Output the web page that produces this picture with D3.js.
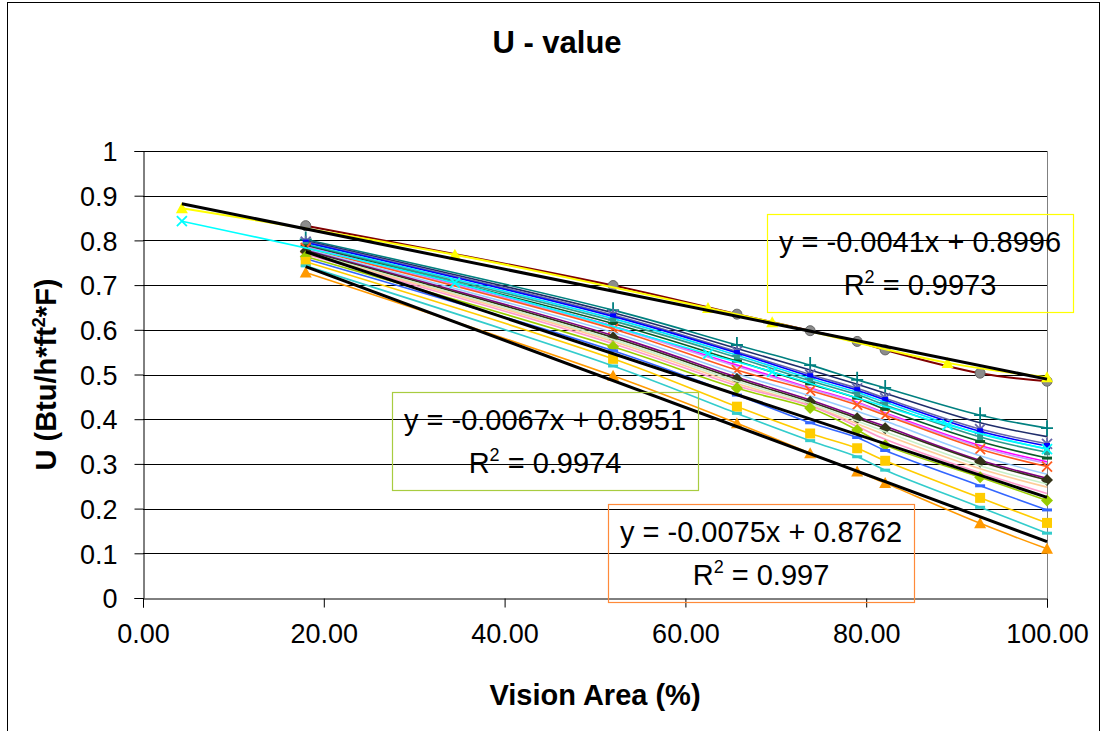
<!DOCTYPE html>
<html>
<head>
<meta charset="utf-8">
<script src="https://cdn.jsdelivr.net/npm/d3@7"></script>
<style>
  body { margin: 0; background: #fff; }
  text { font-family: "Liberation Sans", Arial, sans-serif; }
</style>
</head>
<body>
<div id="chart"></div>
<script>
// data
const xTicks = [0, 20, 40, 60, 80, 100];
const yTicks = [0, 0.1, 0.2, 0.3, 0.4, 0.5, 0.6, 0.7, 0.8, 0.9, 1];

// vision area values shared by most series
const bandX = [18.0, 52.0, 65.7, 73.8, 79.0, 82.1, 92.6, 100];

const bandValues = [
  [0.802, 0.644, 0.566, 0.521, 0.488, 0.470, 0.409, 0.380],
  [0.799, 0.638, 0.558, 0.510, 0.478, 0.458, 0.392, 0.361],
  [0.797, 0.633, 0.551, 0.500, 0.469, 0.447, 0.378, 0.345],
  [0.795, 0.630, 0.548, 0.496, 0.465, 0.443, 0.373, 0.340],
  [0.792, 0.625, 0.543, 0.491, 0.460, 0.438, 0.367, 0.334],
  [0.790, 0.620, 0.538, 0.486, 0.455, 0.432, 0.360, 0.326],
  [0.788, 0.614, 0.530, 0.479, 0.447, 0.422, 0.350, 0.313],
  [0.786, 0.608, 0.521, 0.470, 0.438, 0.414, 0.341, 0.305],
  [0.785, 0.606, 0.518, 0.468, 0.436, 0.412, 0.338, 0.301],
  [0.783, 0.602, 0.510, 0.464, 0.432, 0.409, 0.333, 0.294],
  [0.780, 0.594, 0.501, 0.452, 0.418, 0.396, 0.318, 0.277],
  [0.778, 0.587, 0.494, 0.443, 0.406, 0.384, 0.308, 0.268],
  [0.776, 0.583, 0.490, 0.439, 0.402, 0.380, 0.305, 0.264],
  [0.774, 0.578, 0.485, 0.435, 0.396, 0.372, 0.296, 0.255],
  [0.772, 0.574, 0.480, 0.431, 0.390, 0.365, 0.289, 0.248],
  [0.769, 0.569, 0.475, 0.430, 0.384, 0.355, 0.280, 0.234],
  [0.764, 0.562, 0.469, 0.425, 0.376, 0.342, 0.270, 0.218],
  [0.759, 0.553, 0.454, 0.392, 0.359, 0.330, 0.251, 0.197],
  [0.752, 0.535, 0.428, 0.368, 0.335, 0.307, 0.224, 0.168],
  [0.743, 0.519, 0.413, 0.352, 0.316, 0.286, 0.203, 0.145],
  [0.728, 0.497, 0.391, 0.324, 0.283, 0.257, 0.167, 0.110]
];

// top series (grey circles)
const topValues = [0.833, 0.699, 0.635, 0.598, 0.574, 0.555, 0.503, 0.485];

// two series measured at other vision areas
const sparseX = [4.3, 34.5, 62.5, 69.6, 89.0, 100];
const yellowValues = [0.872, 0.768, 0.649, 0.617, 0.526, 0.494];
const cyanValues = [0.843, 0.705, 0.546, 0.506, 0.387, 0.333];

// linear trend lines as printed on the chart
const trendSlopes = [-0.0041, -0.0067, -0.0075];
const trendIntercepts = [0.8996, 0.8951, 0.8762];
const trendR2 = ["0.9973", "0.9974", "0.997"];
const trendFrom = [4.3, 18.0, 18.0];

// styles, kept apart from the values
const bandStyles = [
  {color: "#008080", marker: "plus"},
  {color: "#1f2d6b", marker: "none"},
  {color: "#6666aa", marker: "asterisk"},
  {color: "#0000ff", marker: "smallsquare"},
  {color: "#00e5ff", marker: "none"},
  {color: "#2e9c8c", marker: "smallsquare"},
  {color: "#0b5a2a", marker: "dash"},
  {color: "#ff00ff", marker: "none"},
  {color: "#cc99ff", marker: "none"},
  {color: "#ff5a1e", marker: "x"},
  {color: "#99ccff", marker: "none"},
  {color: "#800080", marker: "none"},
  {color: "#333319", marker: "diamond"},
  {color: "#c8f0c8", marker: "none"},
  {color: "#ffcc99", marker: "none"},
  {color: "#ff99cc", marker: "none"},
  {color: "#99cc00", marker: "diamond"},
  {color: "#3366ff", marker: "dash"},
  {color: "#ffcc00", marker: "square"},
  {color: "#33cccc", marker: "dash"},
  {color: "#ff9900", marker: "triangle"}
];
const boxStyles = [
  {stroke: "#ffff00", left: 767, top: 214},
  {stroke: "#a8cc40", left: 392, top: 392},
  {stroke: "#ff8a3a", left: 608, top: 504}
];

const W = 1102, H = 731;
const margin = {top: 151, right: 55, bottom: 133, left: 143};
const width = W - margin.left - margin.right,
      height = H - margin.top - margin.bottom;

// plain hyphen for minus signs, like the original
const fmt4 = d3.formatLocale({decimal: ".", thousands: ",", grouping: [3], currency: ["", ""], minus: "-"}).format(".4f");

const root = d3.select("#chart").append("svg")
  .attr("width", W).attr("height", H);
root.append("rect").attr("width", W).attr("height", H).attr("fill", "#fff");
root.append("rect")
  .attr("x", 7.5).attr("y", 2.5).attr("width", 1092).attr("height", 760)
  .attr("fill", "none").attr("stroke", "#000").attr("stroke-width", 1);

const svg = root.append("g")
  .attr("transform", "translate(" + margin.left + "," + margin.top + ")");

const x = d3.scaleLinear().domain([0, 100]).range([0, width]);
const y = d3.scaleLinear().domain([0, 1]).range([height, 0]);

// gridlines
svg.selectAll(".grid").data(yTicks.slice(1)).enter()
  .append("line")
  .attr("x1", 0).attr("x2", width)
  .attr("y1", d => Math.round(y(d)) + 0.5).attr("y2", d => Math.round(y(d)) + 0.5)
  .attr("stroke", "#000").attr("stroke-width", 1);
svg.append("line")
  .attr("x1", width + 0.5).attr("x2", width + 0.5).attr("y1", 0).attr("y2", height)
  .attr("stroke", "#808080");

// axes
const xAxis = svg.append("g")
  .attr("transform", "translate(0," + (height + 0.5) + ")")
  .call(d3.axisBottom(x).tickValues(xTicks).tickFormat(d3.format(".2f")).tickSize(9).tickPadding(16));
const yAxis = svg.append("g")
  .attr("transform", "translate(0.5,0)")
  .call(d3.axisLeft(y).tickValues(yTicks).tickFormat(d => d === 0 || d === 1 ? String(d) : d3.format(".1f")(d)).tickSize(9).tickPadding(17));
[xAxis, yAxis].forEach(a => {
  a.select(".domain").attr("stroke", "#000");
  a.selectAll(".tick line").attr("stroke", "#000");
  a.selectAll("text").attr("fill", "#000").style("font-size", "27px")
   .style("font-family", "'Liberation Sans', Arial, sans-serif");
});
yAxis.selectAll("text").attr("dy", "0.36em");

// markers
function markerPath(type) {
  switch (type) {
    case "diamond": return "M0,-6L6,0L0,6L-6,0Z";
    case "square": return "M-5,-5H5V5H-5Z";
    case "smallsquare": return "M-3,-3H3V3H-3Z";
    case "triangle": return "M0,-6L6,5L-6,5Z";
    case "circle": return "M-5,0A5,5 0 1,0 5,0A5,5 0 1,0 -5,0Z";
    case "dash": return "M-5,-1.5H5V1.5H-5Z";
    case "x": return "M-5,-5L5,5M-5,5L5,-5";
    case "plus": return "M-6,0H6M0,-8V8";
    case "asterisk": return "M-5,-5L5,5M-5,5L5,-5M0,-6V6";
    default: return null;
  }
}
const stroked = ["x", "plus", "asterisk"];

const line = d3.line()
  .x(d => x(d[0])).y(d => y(d[1]))
  .curve(d3.curveCatmullRom.alpha(0.5));

function drawSeries(xs, vals, color, marker, opts) {
  opts = opts || {};
  const pts = xs.map((v, i) => [v, vals[i]]);
  svg.append("path")
    .datum(pts)
    .attr("d", line)
    .attr("fill", "none")
    .attr("stroke", opts.lineColor || color)
    .attr("stroke-width", opts.lineWidth || 1.6);
  const p = markerPath(marker);
  if (!p) return;
  svg.selectAll(null).data(pts).enter()
    .append("path")
    .attr("transform", d => "translate(" + x(d[0]) + "," + y(d[1]) + ")")
    .attr("d", p)
    .attr("fill", stroked.includes(marker) ? "none" : (opts.fill || color))
    .attr("stroke", stroked.includes(marker) ? color : (opts.markerStroke || "none"))
    .attr("stroke-width", stroked.includes(marker) ? 1.8 : 1);
}

bandValues.forEach((vals, i) => drawSeries(bandX, vals, bandStyles[i].color, bandStyles[i].marker));
drawSeries(bandX, topValues, "#808080", "circle",
  {lineColor: "#800000", lineWidth: 2, fill: "#8c8c8c", markerStroke: "#666"});
drawSeries(sparseX, yellowValues, "#ffff00", "triangle", {lineWidth: 2});
drawSeries(sparseX, cyanValues, "#00ffff", "x");

// trend lines
trendSlopes.forEach((m, i) => {
  const f = v => m * v + trendIntercepts[i];
  svg.append("line")
    .attr("x1", x(trendFrom[i])).attr("y1", y(f(trendFrom[i])))
    .attr("x2", x(100)).attr("y2", y(f(100)))
    .attr("stroke", "#000").attr("stroke-width", 3);
});

// equation boxes
trendSlopes.forEach((m, i) => {
  const b = boxStyles[i];
  const g = root.append("g").attr("transform", "translate(" + b.left + "," + b.top + ")");
  g.append("rect").attr("x", 0.5).attr("y", 0.5).attr("width", 306).attr("height", 98)
    .attr("fill", "none").attr("stroke", b.stroke).attr("stroke-width", 1.2);
  g.append("text").attr("x", 153).attr("y", 38).attr("text-anchor", "middle")
    .style("font-size", "29px")
    .text("y = " + fmt4(m) + "x + " + fmt4(trendIntercepts[i]));
  const t = g.append("text").attr("x", 153).attr("y", 81).attr("text-anchor", "middle")
    .style("font-size", "29px");
  t.append("tspan").text("R");
  t.append("tspan").attr("dy", -12).style("font-size", "18px").text("2");
  t.append("tspan").attr("dy", 12).text(" = " + trendR2[i]);
});

// titles
root.append("text").attr("x", 557).attr("y", 53).attr("text-anchor", "middle")
  .style("font-size", "31px").style("font-weight", "bold").text("U - value");
root.append("text").attr("x", margin.left + width / 2).attr("y", 705).attr("text-anchor", "middle")
  .style("font-size", "29px").style("font-weight", "bold").text("Vision Area (%)");
const yt = root.append("text")
  .attr("transform", "translate(56," + (margin.top + height / 2) + ") rotate(-90)")
  .attr("text-anchor", "middle").style("font-size", "29px").style("font-weight", "bold");
yt.append("tspan").text("U (Btu/h*ft");
yt.append("tspan").attr("dy", -11).style("font-size", "18px").text("2");
yt.append("tspan").attr("dy", 11).text("*F)");
</script>
</body>
</html>
